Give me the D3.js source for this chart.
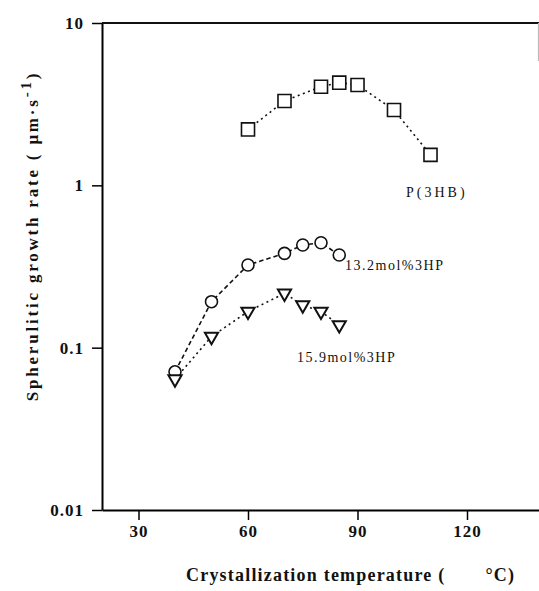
<!DOCTYPE html>
<html>
<head>
<meta charset="utf-8">
<script src="https://cdn.jsdelivr.net/npm/d3@7"></script>
<style>
  body { margin: 0; background: #fff; }
  svg { display: block; }
  text { font-family: "Liberation Serif", "Times New Roman", serif; fill: #111; }
</style>
</head>
<body>
<div id="chart"></div>
<script>
// crystallization temperatures (°C) and growth rates (µm/s)
const tempP3HB = [60, 70, 80, 85, 90, 100, 110];
const rateP3HB = [2.21, 3.31, 4.05, 4.29, 4.15, 2.91, 1.54];

const temp132 = [40, 50, 60, 70, 75, 80, 85];
const rate132 = [0.071, 0.192, 0.323, 0.381, 0.429, 0.443, 0.372];

const temp159 = [40, 50, 60, 70, 75, 80, 85];
const rate159 = [0.064, 0.117, 0.167, 0.216, 0.183, 0.167, 0.138];

const xTicks = [30, 60, 90, 120];
const yTicks = [0.01, 0.1, 1, 10];
const yTickLabels = ["0.01", "0.1", "1", "10"];

// series labels, anchored in data space (temperature, rate)
const labelText = ["P(3HB)", "13.2mol%3HP", "15.9mol%3HP"];
const labelTemp = [103.3, 86.6, 73.4];
const labelRate = [0.90, 0.323, 0.0876];

const width = 539, height = 591;

const svg = d3.select("#chart").append("svg")
    .attr("width", width)
    .attr("height", height);

const x = d3.scaleLinear().domain([20, 140]).range([102, 540]);
const y = d3.scaleLog().domain([0.01, 10]).range([510, 23]);

// axes
svg.append("g")
    .attr("transform", `translate(0,${y(0.01)})`)
    .call(d3.axisBottom(x).tickValues(xTicks).tickSize(10).tickPadding(5).tickSizeOuter(0))
    .call(g => g.select(".domain").attr("stroke-width", 2))
    .call(g => g.selectAll(".tick line").attr("stroke-width", 1.5))
    .call(g => g.selectAll(".tick text")
        .attr("font-family", "Liberation Serif")
        .attr("font-weight", "bold")
        .attr("font-size", 17)
        .attr("letter-spacing", 1)
        .attr("fill", "#111"));

svg.append("g")
    .attr("transform", `translate(${x(20)},0)`)
    .call(d3.axisLeft(y).tickValues(yTicks).tickFormat((d, i) => yTickLabels[i])
        .tickSize(10).tickPadding(8).tickSizeOuter(0))
    .call(g => g.select(".domain").attr("stroke-width", 2))
    .call(g => g.selectAll(".tick line").attr("stroke-width", 1.5))
    .call(g => g.selectAll(".tick text")
        .attr("font-family", "Liberation Serif")
        .attr("font-weight", "bold")
        .attr("font-size", 17)
        .attr("letter-spacing", 1)
        .attr("fill", "#111"));

// top frame line and faded right edge
svg.append("line")
    .attr("x1", x(20)).attr("x2", x(140))
    .attr("y1", y(10)).attr("y2", y(10))
    .attr("stroke", "#111").attr("stroke-width", 2);
svg.append("line")
    .attr("x1", x(140) - 1.5).attr("x2", x(140) - 1.5)
    .attr("y1", y(10)).attr("y2", y(10) + 38)
    .attr("stroke", "#bbb").attr("stroke-width", 1.2);

// axis titles
svg.append("text")
    .attr("x", 186)
    .attr("y", 581)
    .attr("font-size", 18)
    .attr("font-weight", "bold")
    .attr("letter-spacing", 1.2)
    .text("Crystallization temperature (")
    .append("tspan")
    .attr("dx", 40)
    .text("°C)");

const yTitle = svg.append("text")
    .attr("transform", "translate(38,236) rotate(-90)")
    .attr("text-anchor", "middle")
    .attr("font-size", 17)
    .attr("font-weight", "bold")
    .attr("letter-spacing", 2.8);
yTitle.append("tspan").text("Spherulitic growth rate ( μm·s");
yTitle.append("tspan").attr("dy", -7).attr("font-size", 15).text("-1");
yTitle.append("tspan").attr("dy", 7).text(")");

// series
function series(temps, rates, dash) {
    const pts = temps.map((t, i) => [t, rates[i]]);
    svg.append("path")
        .datum(pts)
        .attr("fill", "none")
        .attr("stroke", "#111")
        .attr("stroke-width", 1.6)
        .attr("stroke-dasharray", dash)
        .attr("d", d3.line().x(d => x(d[0])).y(d => y(d[1])));
    return pts;
}

const sq = series(tempP3HB, rateP3HB, "2,3.5");
const ci = series(temp132, rate132, "4.5,3");
const tr = series(temp159, rate159, "2,3.5");

svg.append("g").selectAll("path")
    .data(sq)
    .enter().append("path")
    .attr("transform", d => `translate(${x(d[0])},${y(d[1])})`)
    .attr("d", d3.symbol(d3.symbolSquare, 170))
    .attr("fill", "white")
    .attr("stroke", "#111")
    .attr("stroke-width", 1.6);

svg.append("g").selectAll("circle")
    .data(ci)
    .enter().append("circle")
    .attr("cx", d => x(d[0]))
    .attr("cy", d => y(d[1]))
    .attr("r", 6)
    .attr("fill", "white")
    .attr("stroke", "#111")
    .attr("stroke-width", 1.6);

svg.append("g").selectAll("path")
    .data(tr)
    .enter().append("path")
    .attr("transform", d => `translate(${x(d[0])},${y(d[1])}) rotate(180)`)
    .attr("d", d3.symbol(d3.symbolTriangle, 75))
    .attr("fill", "white")
    .attr("stroke", "#111")
    .attr("stroke-width", 2);

// series labels
svg.append("g").selectAll("text")
    .data(labelText)
    .enter().append("text")
    .attr("x", (d, i) => x(labelTemp[i]))
    .attr("y", (d, i) => y(labelRate[i]))
    .attr("dominant-baseline", "central")
    .attr("font-size", 14)
    .attr("fill", "#333")
    .attr("letter-spacing", (d, i) => i === 0 ? 3 : 1.5)
    .text(d => d);
</script>
</body>
</html>
